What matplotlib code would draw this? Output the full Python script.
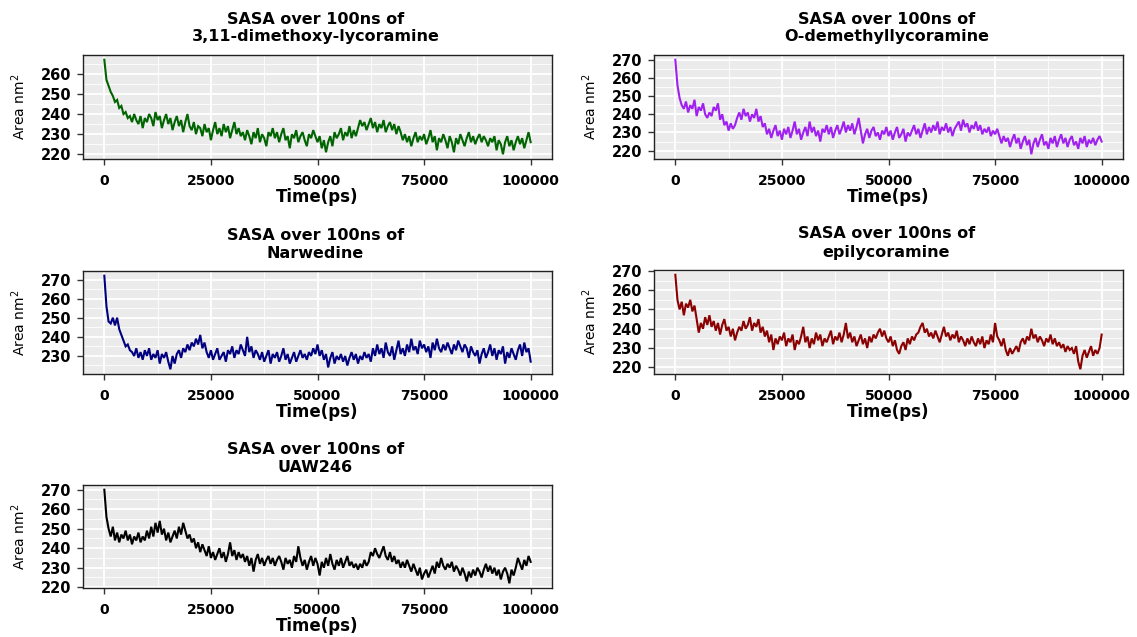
import numpy as np
import matplotlib
matplotlib.use("Agg")
import matplotlib.pyplot as plt
from matplotlib.ticker import MultipleLocator

plt.rcParams['font.family'] = ['DejaVu Sans']

# time axis (ps), one sample every 500 ps
time_ps = np.arange(0, 100001, 500)

# SASA values (nm^2), 20 per 10 ns row
dimethoxy = [
    267, 257, 254, 251, 249, 246, 247, 243, 244, 240, 241, 238, 239, 236, 240, 237, 235, 239, 233, 238,
    236, 240, 238, 234, 241, 237, 239, 233, 237, 240, 235, 238, 232, 236, 239, 234, 237, 231, 236, 240,
    234, 232, 236, 230, 234, 233, 229, 235, 231, 233, 227, 232, 236, 230, 233, 229, 235, 231, 234, 228,
    232, 236, 230, 233, 229, 231, 227, 232, 229, 225, 231, 228, 233, 226, 230, 228, 224, 231, 229, 233,
    228, 231, 226, 230, 233, 227, 229, 223, 230, 228, 232, 226, 229, 231, 227, 224, 230, 228, 232, 229,
    226, 229, 223, 227, 221, 226, 229, 224, 231, 228, 230, 233, 227, 231, 229, 234, 228, 232, 229, 233,
    237, 234, 236, 232, 235, 238, 233, 236, 231, 235, 233, 237, 231, 234, 236, 232, 235, 230, 234, 231,
    227, 230, 226, 229, 224, 228, 231, 226, 229, 227, 230, 225, 228, 232, 226, 229, 222, 228, 226, 230,
    227, 223, 229, 226, 221, 228, 225, 230, 227, 224, 228, 231, 226, 229, 225, 228, 230, 226, 229, 227,
    224, 228, 226, 229, 222, 227, 225, 220, 226, 229, 224, 227, 222, 226, 229, 225, 228, 223, 227, 231,
    226,
]

demethyl = [
    270, 256, 249, 245, 243, 247, 241, 245, 243, 248, 239, 244, 242, 246, 240, 238, 241, 239, 244, 242,
    246, 237, 240, 234, 236, 231, 235, 232, 234, 238, 241, 237, 243, 239, 241, 236, 240, 238, 243, 236,
    239, 233, 235, 229, 232, 227, 231, 234, 228, 231, 226, 232, 229, 233, 227, 231, 236, 229, 232, 226,
    230, 233, 228, 236, 230, 233, 228, 231, 225, 232, 230, 234, 229, 233, 227, 231, 234, 229, 232, 236,
    230, 234, 231, 235, 229, 233, 238, 231, 224, 229, 232, 227, 231, 233, 228, 230, 226, 231, 229, 233,
    228, 231, 226, 230, 233, 227, 229, 232, 225, 230, 228, 231, 234, 229, 232, 227, 231, 235, 229, 233,
    230, 234, 231, 236, 229, 233, 231, 235, 230, 233, 228, 232, 234, 236, 231, 237, 233, 235, 230, 234,
    232, 236, 231, 234, 229, 232, 230, 233, 228, 231, 229, 232, 228, 224, 228, 225, 227, 222, 226, 229,
    224, 227, 221, 225, 228, 223, 226, 218, 224, 227, 222, 226, 229, 223, 225, 221, 227, 224, 228, 222,
    226, 229, 224, 227, 222, 226, 228, 223, 225, 221, 227, 224, 228, 222, 226, 224, 227, 223, 226, 228,
    225,
]

narwedine = [
    272, 256, 248, 247, 250, 246, 250, 244, 241, 238, 235, 236, 233, 232, 230, 234, 229, 232, 228, 233,
    230, 234, 228, 231, 229, 233, 226, 231, 229, 232, 227, 223, 230, 226, 231, 233, 229, 234, 232, 236,
    233, 237, 235, 239, 236, 241, 234, 237, 232, 229, 233, 228, 231, 234, 228, 230, 232, 227, 233, 231,
    235, 229, 233, 231, 236, 233, 230, 240, 232, 235, 229, 233, 231, 228, 232, 227, 230, 233, 226, 231,
    229, 232, 227, 230, 234, 228, 231, 226, 229, 232, 227, 230, 233, 229, 231, 228, 232, 230, 234, 231,
    236, 230, 233, 228, 231, 224, 229, 232, 226, 230, 228, 231, 227, 230, 225, 229, 232, 228, 231, 226,
    230, 228, 232, 229, 231, 227, 234, 230, 236, 231, 234, 229, 237, 232, 230, 235, 228, 233, 238, 231,
    234, 230, 236, 232, 239, 233, 235, 231, 238, 234, 236, 232, 235, 229, 237, 233, 239, 234, 232, 236,
    233, 237, 234, 231, 236, 233, 238, 235, 232, 236, 234, 229, 235, 232, 230, 233, 226, 231, 234, 229,
    232, 236, 230, 234, 228, 233, 231, 235, 226, 232, 229, 234, 231, 228, 233, 236, 230, 237, 232, 234,
    227,
]

epilycoramine = [
    268, 255, 250, 254, 247, 253, 251, 255, 249, 252, 245, 238, 243, 240, 246, 242, 247, 241, 244, 239,
    243, 237, 242, 245, 239, 241, 236, 240, 234, 238, 241, 239, 244, 240, 242, 246, 239, 243, 241, 245,
    238, 241, 236, 239, 233, 237, 229, 235, 232, 236, 234, 238, 231, 235, 233, 237, 229, 234, 232, 236,
    241, 233, 236, 230, 235, 232, 238, 234, 237, 231, 235, 233, 236, 239, 232, 236, 234, 238, 233, 237,
    243, 235, 238, 233, 236, 231, 234, 237, 232, 235, 230, 236, 233, 237, 235, 238, 240, 236, 239, 235,
    233, 236, 231, 234, 229, 227, 231, 233, 229, 235, 232, 236, 234, 237, 238, 241, 243, 238, 240, 236,
    238, 235, 239, 236, 233, 237, 241, 236, 238, 234, 237, 235, 239, 233, 236, 234, 231, 235, 232, 236,
    233, 231, 235, 232, 236, 230, 234, 232, 237, 233, 243, 236, 234, 231, 235, 229, 226, 230, 227, 229,
    231, 228, 233, 235, 232, 236, 234, 240, 235, 237, 233, 236, 234, 231, 235, 233, 237, 232, 235, 231,
    233, 230, 232, 228, 231, 229, 230, 227, 231, 223, 219, 226, 229, 225, 228, 231, 226, 229, 227, 230,
    237,
]

uaw246 = [
    270, 256, 250, 246, 251, 244, 248, 243, 247, 245, 249, 244, 247, 242, 246, 244, 248, 243, 246, 244,
    249, 245, 251, 246, 253, 248, 254, 247, 250, 244, 248, 243, 246, 249, 245, 251, 247, 253, 249, 245,
    247, 243, 245, 240, 243, 238, 242, 239, 236, 241, 235, 238, 234, 237, 240, 235, 238, 233, 237, 243,
    236, 239, 234, 238, 235, 237, 233, 236, 231, 235, 228, 234, 237, 232, 235, 231, 234, 236, 232, 235,
    231, 234, 236, 233, 229, 235, 232, 234, 230, 236, 233, 241, 235, 231, 234, 229, 233, 236, 231, 235,
    232, 226, 233, 230, 235, 231, 237, 232, 229, 234, 231, 235, 230, 233, 236, 231, 233, 230, 232, 229,
    232, 230, 234, 231, 233, 238, 236, 240, 237, 235, 238, 241, 236, 234, 238, 233, 236, 232, 234, 230,
    233, 230, 234, 231, 228, 232, 229, 226, 230, 224, 227, 229, 225, 228, 231, 227, 233, 230, 235, 231,
    229, 232, 230, 233, 228, 231, 229, 226, 230, 227, 223, 228, 225, 229, 226, 230, 228, 225, 229, 232,
    228, 231, 227, 230, 226, 229, 224, 228, 230, 227, 222, 229, 226, 230, 235, 232, 229, 234, 231, 236,
    233,
]

names = ["3,11-dimethoxy-lycoramine", "O-demethyllycoramine", "Narwedine",
         "epilycoramine", "UAW246"]
series = [dimethoxy, demethyl, narwedine, epilycoramine, uaw246]
colors = ["#006400", "#A020F0", "#000080", "#8B0000", "#000000"]
xticks = [0, 25000, 50000, 75000, 100000]

W, H = 1137, 637
fig = plt.figure(figsize=(W / 100, H / 100), dpi=100)

# panel boxes in pixels: left, top, right, bottom
boxes = [(83, 55, 552, 159), (654, 55, 1123, 159),
         (83, 271, 552, 374), (654, 270, 1123, 374),
         (83, 485, 552, 588)]

for name, vals, col, (l, t, r, b) in zip(names, series, colors, boxes):
    w, h = r - l, b - t
    ax = fig.add_axes([l / W, 1 - b / H, w / W, h / H])
    ax.set_facecolor("#EBEBEB")
    ax.plot(time_ps, vals, color=col, lw=1.5, solid_joinstyle="miter")
    ax.margins(x=0.05, y=0.05)

    ax.set_xticks(xticks)
    ax.set_xticklabels([str(v) for v in xticks])
    ax.xaxis.set_minor_locator(MultipleLocator(12500))
    ax.yaxis.set_major_locator(MultipleLocator(10))
    ax.yaxis.set_minor_locator(MultipleLocator(5))
    ax.grid(which="major", color="white", lw=1.3)
    ax.grid(which="minor", color="white", lw=0.6)
    ax.set_axisbelow(True)

    for sp in ax.spines.values():
        sp.set_color("#222222")
        sp.set_linewidth(1.0)

    ax.tick_params(which="major", direction="out", length=4.5, width=1.0,
                   color="#333333")
    ax.tick_params(axis="x", labelsize=10, pad=6)
    ax.tick_params(axis="y", labelsize=10.5, pad=4)
    ax.tick_params(which="minor", length=0)
    for lab in ax.get_xticklabels() + ax.get_yticklabels():
        lab.set_fontweight("bold")

    ax.set_xlabel("Time(ps)", fontsize=12, fontweight="bold")
    ax.xaxis.set_label_coords(0.5, -29 / h)
    ax.set_ylabel("Area nm$^2$", fontsize=10)
    ax.yaxis.set_label_coords(-55 / w, 0.5)

    ax.annotate("SASA over 100ns of", xy=(0.5, 1), xycoords="axes fraction",
                xytext=(-2, 36), textcoords="offset pixels",
                ha="center", va="center", fontsize=11.5, fontweight="bold")
    ax.annotate(name, xy=(0.5, 1), xycoords="axes fraction",
                xytext=(-2, 18), textcoords="offset pixels",
                ha="center", va="center", fontsize=11.5, fontweight="bold")

fig.savefig("out.png", dpi=100, facecolor="white")
